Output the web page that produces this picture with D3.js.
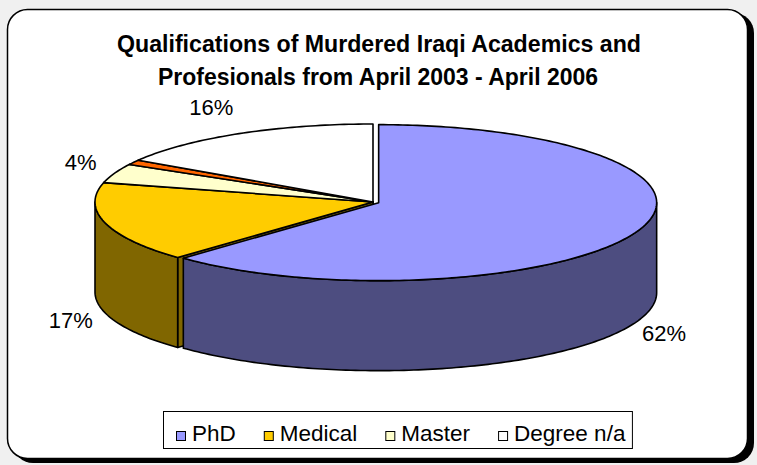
<!DOCTYPE html>
<html>
<head>
<script src="https://d3js.org/d3.v7.min.js"></script>
<style>
body {margin:0; background:#f0f0f0;}
svg text {font-family: "Liberation Sans", Arial, sans-serif; fill:#000;}
</style>
</head>
<body>
<svg id="chart" width="757" height="465"></svg>
<script>
// chart data (shares in %)
const categories = ["PhD", "Medical", "Master", "Other", "Degree n/a"];
const shares = [62.4, 16.6, 4, 1, 16];
const pctLabels = ["62%", "17%", "4%", "", "16%"];
const topColors = ["#9999FF", "#FFCC00", "#FFFFCC", "#FF6600", "#FFFFFF"];
const explodedCats = ["PhD"];
const legendNames = ["PhD", "Medical", "Master", "Degree n/a"];
const titleLines = ["Qualifications of Murdered Iraqi Academics and", "Profesionals from April 2003 - April 2006"];

const svg = d3.select("#chart");
const cx = 373, cy = 202, rx = 278, ry = 78, depth = 90, explode = 0.022;

// frame with shadow
svg.append("rect").attr("x", 13).attr("y", 13).attr("width", 741).attr("height", 450)
    .attr("rx", 20).attr("fill", "#000");
svg.append("rect").attr("x", 7.5).attr("y", 9.5).attr("width", 740).attr("height", 449)
    .attr("rx", 20).attr("fill", "#fff").attr("stroke", "#000").attr("stroke-width", 1.5);

// title
svg.selectAll(".title").data(titleLines).join("text")
    .attr("class", "title")
    .attr("x", (d, i) => i == 0 ? 117 : 158)
    .attr("y", (d, i) => 52 + i * 33)
    .attr("textLength", (d, i) => i == 0 ? 524 : 440)
    .attr("lengthAdjust", "spacingAndGlyphs")
    .style("font-size", "23.5px").style("font-weight", "bold")
    .text(d => d);

// projection of the tilted pie
const sx = d3.scaleLinear().domain([-1, 1]).range([cx - rx, cx + rx]);
const sy = d3.scaleLinear().domain([-1, 1]).range([cy - ry, cy + ry]);
function pt(a, r, z, off) {
    return [sx(r * Math.sin(a)) + off[0], sy(-r * Math.cos(a)) + z + off[1]];
}
function arcPts(a0, a1, z, off) {
    const n = Math.max(2, Math.ceil((a1 - a0) / (Math.PI / 180)));
    return d3.range(n + 1).map(k => pt(a0 + (a1 - a0) * k / n, 1, z, off));
}
const line = d3.line();

const arcs = d3.pie().sort(null).value(d => d)(shares);
const slices = arcs.map((d, i) => {
    const mid = (d.startAngle + d.endAngle) / 2;
    const ex = explodedCats.includes(categories[i]) ? explode : 0;
    const c = d3.rgb(topColors[i]);
    return {
        a0: d.startAngle, a1: d.endAngle, mid: mid,
        off: [ex * rx * Math.sin(mid), -ex * ry * Math.cos(mid)],
        top: topColors[i],
        side: d3.rgb(c.r * 0.5, c.g * 0.5, c.b * 0.5).toString(),
        label: pctLabels[i]
    };
});

const g = svg.append("g")
    .attr("stroke", "#000").attr("stroke-width", 1.6).attr("stroke-linejoin", "round");

// cut faces facing the viewer, back ones first
const faces = [];
slices.forEach(s => {
    if (Math.sin(s.a0) < -1e-6) faces.push({a: s.a0, s: s});
    if (Math.sin(s.a1) > 1e-6) faces.push({a: s.a1, s: s});
});
faces.sort((p, q) => Math.cos(q.a) - Math.cos(p.a));
faces.forEach(f => {
    const a = f.a, s = f.s;
    g.append("path").attr("fill", s.side)
        .attr("d", line([pt(a, 0, 0, s.off), pt(a, 1, 0, s.off), pt(a, 1, depth, s.off), pt(a, 0, depth, s.off)]) + "Z");
});

// outer walls (front half only)
slices.forEach(s => {
    const a = Math.max(s.a0, Math.PI / 2), b = Math.min(s.a1, 3 * Math.PI / 2);
    if (a >= b) return;
    const pts = arcPts(a, b, 0, s.off).concat(arcPts(a, b, depth, s.off).reverse());
    g.append("path").attr("fill", s.side).attr("d", line(pts) + "Z");
});

// top faces
slices.forEach(s => {
    const pts = [pt(0, 0, 0, s.off)].concat(arcPts(s.a0, s.a1, 0, s.off));
    g.append("path").attr("fill", s.top).attr("d", line(pts) + "Z");
});

// percentage labels
svg.selectAll(".lbl").data(slices.filter(s => s.label)).join("text")
    .attr("class", "lbl")
    .attr("x", s => cx + Math.sin(s.mid) * rx * 1.05 + Math.sign(Math.sin(s.mid)) * 21)
    .attr("y", s => cy - Math.cos(s.mid) * ry * 1.38 + (Math.cos(s.mid) < 0 ? depth : 0))
    .attr("dy", "0.35em")
    .attr("text-anchor", "middle")
    .style("font-size", "22px")
    .text(s => s.label);

// legend
const lg = svg.append("g");
const box = lg.append("rect").attr("y", 411.5).attr("height", 37)
    .attr("fill", "#fff").attr("stroke", "#000").attr("stroke-width", 1);
let lx = 176, lastEnd = 0;
legendNames.forEach(name => {
    const i = categories.indexOf(name);
    lg.append("rect").attr("x", lx + 0.5).attr("y", 431.5).attr("width", 9).attr("height", 9)
        .attr("fill", topColors[i]).attr("stroke", "#000").attr("stroke-width", 1);
    const t = lg.append("text").attr("x", lx + 16).attr("y", 441)
        .style("font-size", "22.5px").text(name);
    lastEnd = lx + 16 + t.node().getComputedTextLength();
    lx = lastEnd + 28;
});
box.attr("x", 163.5).attr("width", lastEnd + 7 - 163.5);
</script>
</body>
</html>
